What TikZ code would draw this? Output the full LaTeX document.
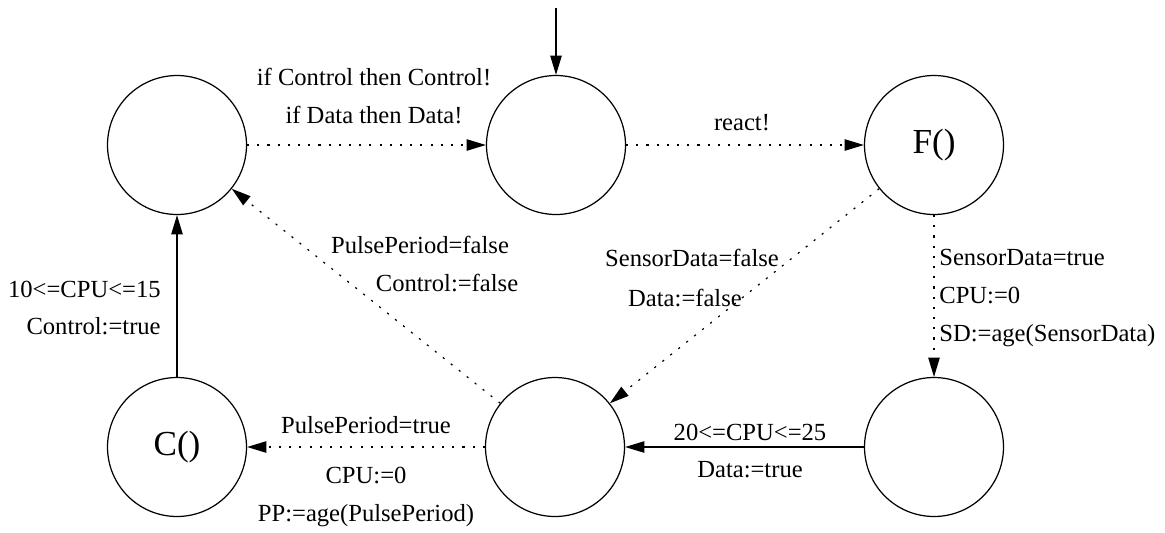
\documentclass[tikz,border=0pt]{standalone}
\usepackage{fontspec}
\setmainfont{Liberation Serif}
\usetikzlibrary{arrows.meta}

\begin{document}
\begin{tikzpicture}[x=0.02cm,y=-0.02cm,
  state/.style={circle,draw,line width=0.7pt,minimum size=2.78cm,inner sep=0pt,
    font=\fontsize{20}{24}\selectfont},
  trans/.style={line width=0.7pt,-{Triangle[length=11pt,width=6.5pt]}},
  dots/.style={dash pattern=on 1.2pt off 4.6pt},
  lbl/.style={font=\fontsize{14}{21.6}\selectfont,inner sep=0pt}]

\useasboundingbox (0,0) rectangle (1165,532);

\node[state] (send) at (177,145) {};
\node[state] (init) at (556,145) {};
\node[state] (filt) at (934,145) {F()};
\node[state] (ctrl) at (177,447) {C()};
\node[state] (deci) at (555,447) {};
\node[state] (sens) at (934,447) {};

\coordinate (entry) at (556,8);

\draw[trans] (entry) -- (init);
\draw[trans,dots] (send) -- (init);
\draw[trans,dots] (init) -- (filt);
\draw[trans,dots] (filt) -- (sens);
\draw[trans,dots] (filt) -- (deci);
\draw[trans] (sens) -- (deci);
\draw[trans,dots] (deci) -- (send);
\draw[trans,dots] (deci) -- (ctrl);
\draw[trans] (ctrl) -- (send);

\node[lbl,align=center] (lsend) at (374,96) {if Control then Control!\\if Data then Data!};
\node[lbl] (lreact) at (742,123) {react!};
\node[lbl] (lppf) at (420,245) {PulsePeriod=false};
\node[lbl] (lcf) at (447,283) {Control:=false};
\node[lbl] (lsdf) at (692,258) {SensorData=false};
\node[lbl] (ldf) at (685,298) {Data:=false};
\node[lbl,align=left,anchor=west] (lsdt) at (939,298) {SensorData=true\\CPU:=0\\SD:=age(SensorData)};
\node[lbl,align=right,anchor=east] (lct) at (161,308) {10<=CPU<=15\\Control:=true};
\node[lbl] (lppt) at (366,425) {PulsePeriod=true};
\node[lbl,align=center] (lpp) at (366,497) {CPU:=0\\PP:=age(PulsePeriod)};
\node[lbl,align=center] (ldt) at (750,451) {20<=CPU<=25\\Data:=true};

\end{tikzpicture}
\end{document}
